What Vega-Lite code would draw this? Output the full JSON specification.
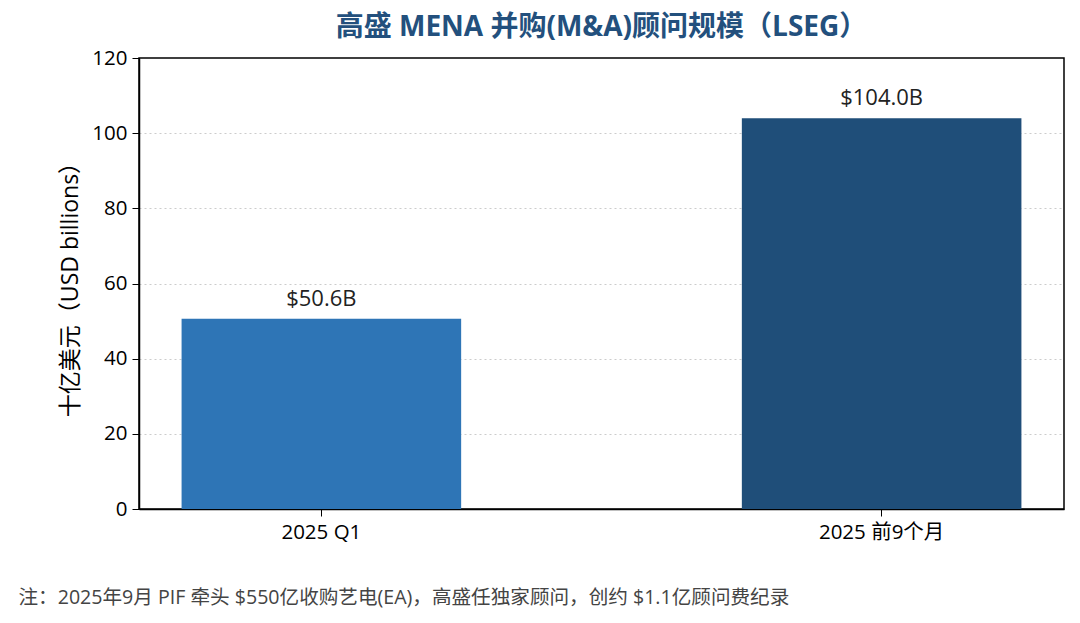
{
  "$schema": "https://vega.github.io/schema/vega-lite/v6.json",
  "width": 925,
  "height": 451,
  "autosize": {"type": "none"},
  "padding": {"left": 139, "top": 58, "right": 16, "bottom": 114},
  "background": "white",
  "config": {
    "font": "Open Sans, Noto Sans CJK SC",
    "view": {"stroke": "#000000", "strokeWidth": 1.5}
  },
  "title": {
    "text": "高盛 MENA 并购(M&A)顾问规模（LSEG）",
    "fontSize": 28,
    "fontWeight": "bold",
    "color": "#23507d",
    "anchor": "middle",
    "offset": 6,
    "font": "Open Sans, Noto Sans CJK SC"
  },
  "data": {
    "values": [
      {"period": "2025 Q1", "value": 50.6, "label": "$50.6B"},
      {"period": "2025 前9个月", "value": 104.0, "label": "$104.0B"}
    ]
  },
  "encoding": {
    "x": {
      "field": "period",
      "type": "nominal",
      "sort": null,
      "scale": {"paddingInner": 0.501, "paddingOuter": 0.076},
      "axis": {
        "labelAngle": 0,
        "labelFontSize": 20.5,
        "labelColor": "#000000",
        "labelPadding": 6,
        "domainColor": "#000000",
        "domainWidth": 1.5,
        "tickColor": "#000000",
        "tickSize": 7,
        "title": "注：2025年9月 PIF 牵头 $550亿收购艺电(EA)，高盛任独家顾问，创约 $1.1亿顾问费纪录",
        "titleFontSize": 19.6,
        "titleFontWeight": "normal",
        "titleColor": "#444444",
        "titleAnchor": "start",
        "titleAlign": "left",
        "titleBaseline": "middle",
        "titleX": -121,
        "titleY": 88
      }
    },
    "y": {
      "field": "value",
      "type": "quantitative",
      "scale": {"domain": [0, 120]},
      "axis": {
        "values": [0, 20, 40, 60, 80, 100, 120],
        "labelFontSize": 20.5,
        "labelColor": "#000000",
        "labelPadding": 5,
        "domainColor": "#000000",
        "domainWidth": 1.5,
        "tickColor": "#000000",
        "tickSize": 7,
        "grid": true,
        "gridColor": {"condition": {"test": "datum.value === 120 || datum.value === 0", "value": "transparent"}, "value": "#cccccc"},
        "gridDash": [2, 3],
        "gridWidth": 1,
        "title": "十亿美元（USD billions）",
        "titleFontSize": 23,
        "titleFontWeight": "normal",
        "titleColor": "#000000",
        "titlePadding": 9
      }
    }
  },
  "layer": [
    {
      "mark": {"type": "bar"},
      "encoding": {
        "color": {
          "field": "period",
          "type": "nominal",
          "scale": {"domain": ["2025 Q1", "2025 前9个月"], "range": ["#2e75b6", "#1f4e79"]},
          "legend": null
        }
      }
    },
    {
      "mark": {"type": "text", "baseline": "bottom", "dy": -8, "fontSize": 22, "color": "#222222"},
      "encoding": {
        "text": {"field": "label"}
      }
    }
  ]
}
